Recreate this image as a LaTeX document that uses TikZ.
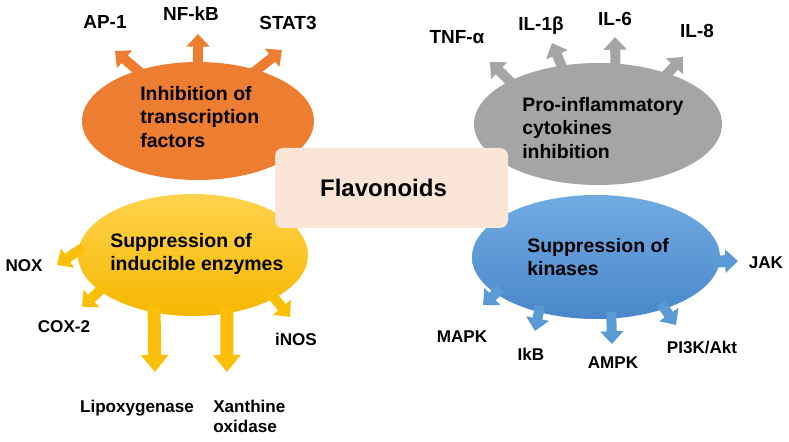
\documentclass[tikz,border=0pt]{standalone}
\usepackage{fontspec}
\setmainfont{Liberation Sans}
\usetikzlibrary{shapes.geometric,arrows.meta}
\definecolor{tfOrange}{HTML}{ED7D31}
\definecolor{cytGray}{HTML}{A5A5A5}
\definecolor{enzYellow}{HTML}{FBBF0A}
\definecolor{enzYellowTop}{HTML}{FFD34D}
\definecolor{enzYellowBot}{HTML}{F5B700}
\definecolor{kinBlue}{HTML}{5B9BD5}
\definecolor{kinBlueTop}{HTML}{70ABE2}
\definecolor{kinBlueBot}{HTML}{4A87CA}
\definecolor{flavFill}{HTML}{FBE5D6}

\begin{document}
\begin{tikzpicture}[x=0.75pt,y=-0.75pt,
	blob/.style={ellipse,inner sep=0pt,draw=none},
	blobtext/.style={anchor=north west,inner sep=0pt,align=left,font=\fontsize{14.6}{17.6}\selectfont\bfseries},
	toplab/.style={inner sep=0pt,text height=10.2pt,text depth=0pt,font=\fontsize{14.2}{17}\selectfont\bfseries},
	lowlab/.style={inner sep=0pt,text height=9.2pt,text depth=0pt,font=\fontsize{12.8}{15}\selectfont\bfseries},
	thinarrow/.style={line width=7.5pt,shorten <=-5pt,-{Triangle[width=17pt,length=9.5pt]}},
	widearrow/.style={line width=9.75pt,shorten <=-5pt,-{Triangle[width=20pt,length=12.75pt]}}]
	\useasboundingbox (0,0) rectangle (789,442);

	% the four groups
	\node[blob,fill=tfOrange,minimum width=174pt,minimum height=88.5pt] (tf) at (198,121) {};
	\node[blob,fill=cytGray,minimum width=186pt,minimum height=91.5pt] (cyt) at (598,124) {};
	\node[blob,top color=enzYellowTop,bottom color=enzYellowBot,minimum width=172.5pt,minimum height=91.5pt] (enz) at (193,255) {};
	\node[blob,top color=kinBlueTop,bottom color=kinBlueBot,minimum width=186pt,minimum height=93pt] (kin) at (596,257) {};

	\node[blobtext] (tfText) at (140,86) {Inhibition of\\transcription\\factors};
	\node[blobtext] (cytText) at (522,97) {Pro-inflammatory\\cytokines\\inhibition};
	\node[blobtext] (enzText) at (110,233) {Suppression of\\inducible enzymes};
	\node[blobtext] (kinText) at (527,238) {Suppression of\\kinases};

	% targets
	\node[toplab] (ap1) at (105,22) {AP-1};
	\node[toplab] (nfkb) at (191,14) {NF-kB};
	\node[toplab] (stat3) at (288,23) {STAT3};
	\node[toplab] (tnf) at (457,37) {TNF-α};
	\node[toplab] (il1) at (541,24) {IL-1β};
	\node[toplab] (il6) at (615,19) {IL-6};
	\node[toplab] (il8) at (697,31) {IL-8};
	\node[lowlab] (nox) at (24,265) {NOX};
	\node[lowlab] (cox) at (64,326) {COX-2};
	\node[lowlab] (inos) at (296,339) {iNOS};
	\node[lowlab] (lox) at (137,406) {Lipoxygenase};
	\node[inner sep=0pt,anchor=north west,align=left,font=\fontsize{12.8}{15}\selectfont\bfseries] (xo) at (213,400) {Xanthine\\oxidase};
	\node[lowlab] (jak) at (766,262) {JAK};
	\node[lowlab] (mapk) at (462,336) {MAPK};
	\node[lowlab] (ikb) at (531,354) {IkB};
	\node[lowlab] (ampk) at (613,362) {AMPK};
	\node[lowlab] (pi3k) at (702,347) {PI3K/Akt};

	\coordinate (apTip) at (115,51);
	\coordinate (nfkbTip) at (198,34);
	\coordinate (statTip) at (282,50);
	\coordinate (tnfTip) at (490,62);
	\coordinate (ilaTip) at (552,43);
	\coordinate (ilbTip) at (615,37);
	\coordinate (ilcTip) at (683,57);
	\coordinate (noxTip) at (57,265);
	\coordinate (coxTip) at (82,307);
	\coordinate (loxTip) at (155,372);
	\coordinate (xoTip) at (227,372);
	\coordinate (inosTip) at (290,317);
	\coordinate (jakTip) at (738,261);
	\coordinate (mapkTip) at (483,305);
	\coordinate (ikbTip) at (535,331);
	\coordinate (ampkTip) at (612,344);
	\coordinate (pikTip) at (676,325);

	% arrows
	\foreach \Angle/\Tip in {140/apTip,90/nfkbTip,41/statTip}
		\draw[tfOrange,thinarrow] (tf.\Angle) -- (\Tip);
	\foreach \Angle/\Tip in {154/tnfTip,122/ilaTip,74/ilbTip,36.5/ilcTip}
		\draw[cytGray,thinarrow] (cyt.\Angle) -- (\Tip);
	\foreach \Angle/\Tip in {178/noxTip,201.7/coxTip,332.3/inosTip}
		\draw[enzYellow,thinarrow] (enz.\Angle) -- (\Tip);
	\foreach \Angle/\Tip in {236.6/loxTip,300.3/xoTip}
		\draw[enzYellow,widearrow] (enz.\Angle) -- (\Tip);
	\foreach \Angle/\Tip in {200/mapkTip,224/ikbTip,284.6/ampkTip,323.3/pikTip}
		\draw[kinBlue,thinarrow] (kin.\Angle) -- (\Tip);
	\draw[kinBlue,thinarrow,line width=9pt] (kin.-2.4) -- (jakTip);

	% centre box
	\node[draw=none,fill=flavFill,rounded corners=6pt,minimum width=174.75pt,minimum height=60pt,
		font=\fontsize{18}{21}\selectfont\bfseries] (flav) at (391.5,188) {\hspace*{-12pt}Flavonoids};
\end{tikzpicture}
\end{document}
